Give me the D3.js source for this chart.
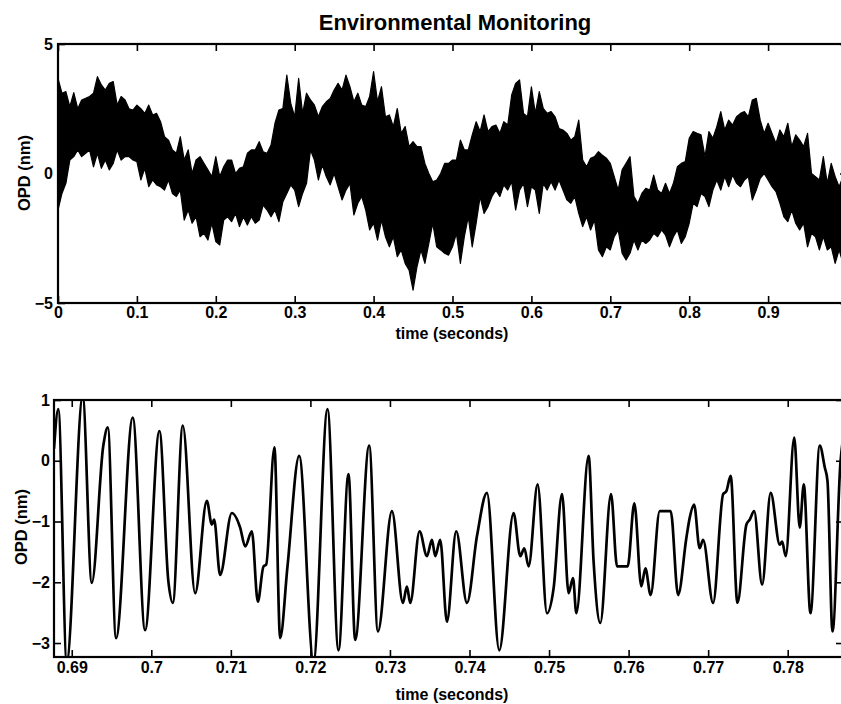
<!DOCTYPE html>
<html>
<head>
<meta charset="utf-8">
<script src="https://cdn.jsdelivr.net/npm/d3@7"></script>
<style>
  html, body { margin: 0; padding: 0; background: #fff; }
  svg { display: block; }
  text { font-family: "Liberation Sans", Arial, Helvetica, sans-serif; font-weight: bold; fill: #000; }
</style>
</head>
<body>
<svg id="chart" width="841" height="704"></svg>
<script>
// ---- Panel 1: full record, upper / lower envelope of the trace every 5 ms ----
const envTimes = d3.range(200).map(i => i * 0.005);
const envUpper = [
  3.67, 3.1, 3.16, 2.58, 3.12, 2.5, 2.84, 2.9, 2.97, 3.1,
  3.74, 3.42, 3.22, 3.48, 3.55, 2.64, 2.97, 2.84, 2.5, 2.45,
  2.64, 2.5, 2.32, 2.64, 2.26, 2.32, 2.0, 1.42, 1.29, 0.91,
  0.78, 1.42, 0.52, 0.91, 0.0, 0.52, 0.65, 0.39, 0.14, -0.12,
  0.65, -0.12, 0.26, 0.52, 0.52, 0.0, 0.2, 0.26, 0.78, 0.91,
  0.91, 1.23, 0.84, 0.78, 1.1, 1.94, 2.45, 2.51, 3.8, 2.71,
  2.19, 3.67, 2.32, 3.1, 2.84, 2.64, 2.19, 2.58, 2.77, 2.9,
  3.22, 3.48, 3.22, 3.8, 3.35, 2.77, 3.1, 2.64, 2.58, 2.97,
  3.93, 2.77, 3.35, 2.19, 2.26, 1.81, 2.51, 1.55, 1.81, 1.04,
  1.23, 1.04, 1.04, 0.39, 0.0, -0.32, -0.25, 0.0, 0.39, 0.39,
  0.52, 0.52, 1.29, 0.91, 0.91, 1.49, 2.0, 1.62, 2.26, 1.62,
  1.81, 1.87, 1.55, 2.0, 1.87, 3.03, 3.48, 3.61, 2.32, 2.19,
  3.35, 2.32, 3.16, 2.51, 2.32, 2.39, 2.19, 1.74, 1.68, 1.55,
  1.29, 1.42, 2.06, 0.52, 0.26, 0.59, 0.65, 0.84, 0.71, 0.59,
  0.39, -0.12, -0.64, 0.14, 0.39, 0.65, -0.89, -1.15, -0.77, -0.57,
  -0.64, -0.06, -0.64, -0.77, -0.38, -0.77, -0.38, 0.26, 0.39, 0.46,
  1.36, 1.62, 1.55, 1.49, 0.65, 1.62, 1.36, 1.81, 2.39, 1.68,
  2.06, 1.87, 2.19, 2.32, 2.39, 2.19, 2.84, 2.9, 2.06, 1.55,
  1.94, 1.55, 1.16, 1.68, 1.42, 1.94, 1.04, 1.49, 1.29, 1.04,
  1.55, 0.0, -0.12, -0.25, 0.65, -0.38, 0.39, -0.12, -0.51, -0.12
];
const envLower = [
  -1.41, -0.77, -0.38, 0.52, 0.65, 0.91, 0.65, 0.78, 0.91, 0.26,
  0.78, 0.2, 0.52, 0.14, 0.39, 0.91, 0.52, 0.65, 0.65, 0.52,
  0.46, -0.25, 0.2, -0.51, -0.25, -0.44, -0.51, -0.64, -0.25, -0.77,
  -0.89, -0.64, -1.8, -1.41, -1.92, -1.67, -2.44, -2.31, -2.57, -1.92,
  -2.63, -2.76, -1.8, -1.67, -1.86, -1.54, -2.05, -1.67, -1.99, -1.67,
  -1.92, -1.8, -1.22, -1.41, -1.67, -1.41, -1.86, -1.09, -0.77, -0.44,
  -0.64, -1.28, -0.77, -0.38, 0.91, 0.52, -0.25, 0.33, -0.12, -0.44,
  0.0, -0.51, -1.02, -0.64, -0.38, -1.6, -1.15, -0.89, -1.41, -2.18,
  -1.92, -2.57, -1.8, -2.44, -2.83, -2.44, -3.21, -2.95, -3.47, -3.73,
  -4.5, -3.6, -2.95, -3.47, -2.7, -1.92, -2.83, -2.95, -3.08, -3.15,
  -2.83, -2.31, -3.47, -2.44, -1.67, -2.83, -1.92, -0.89, -1.54, -1.28,
  -0.89, -0.64, -0.89, -0.44, -0.64, -0.32, -1.41, -0.64, -0.38, -1.28,
  -0.51, -0.64, -1.54, -0.38, -0.64, -0.32, -0.64, -0.25, -0.64, -1.02,
  -1.15, -0.89, -1.54, -2.05, -1.67, -2.18, -1.8, -2.95, -3.21, -2.83,
  -2.95, -2.44, -2.18, -3.08, -3.34, -3.08, -2.57, -2.95, -2.57, -2.7,
  -2.57, -2.31, -2.44, -2.18, -2.38, -2.83, -2.44, -2.18, -2.7, -2.44,
  -1.92, -1.15, -1.28, -0.77, -0.89, -1.28, -0.64, -0.25, -0.64, -0.12,
  -0.51, -0.06, -0.38, -0.51, -0.25, -0.12, -1.02, -0.64, -0.19, 0.0,
  -0.25, -0.51, -0.7, -1.15, -1.67, -1.86, -1.41, -1.92, -2.18, -1.92,
  -2.83, -2.31, -2.44, -2.95, -2.44, -2.95, -2.83, -3.47, -2.95, -3.47
];
const topXTicks = [0, 0.1, 0.2, 0.3, 0.4, 0.5, 0.6, 0.7, 0.8, 0.9];
const topYTicks = [-5, 0, 5];

// ---- Panel 2: zoomed segment, turning points of the trace ----
const zoomTimes = [
  0.68777, 0.68831, 0.68937, 0.69138, 0.69252, 0.69397, 0.69453, 0.69557, 0.69767, 0.69922,
  0.70102, 0.70215, 0.70270, 0.70396, 0.70551, 0.70698, 0.70761, 0.70790, 0.70865, 0.71012,
  0.71117, 0.71180, 0.71264, 0.71339, 0.71410, 0.71444, 0.71548, 0.71620, 0.71712, 0.71859,
  0.72039, 0.72215, 0.72353, 0.72479, 0.72563, 0.72739, 0.72849, 0.73025, 0.73163, 0.73213,
  0.73255, 0.73372, 0.73465, 0.73528, 0.73569, 0.73632, 0.73716, 0.73833, 0.73968, 0.74094,
  0.74219, 0.74374, 0.74554, 0.74638, 0.74689, 0.74743, 0.74856, 0.74974, 0.75057, 0.75163,
  0.75246, 0.75301, 0.75343, 0.75497, 0.75560, 0.75644, 0.75779, 0.75855, 0.75988, 0.76072,
  0.76160, 0.76211, 0.76277, 0.76391, 0.76529, 0.76622, 0.76726, 0.76768, 0.76823, 0.76893,
  0.76936, 0.77062, 0.77188, 0.77229, 0.77283, 0.77368, 0.77481, 0.77522, 0.77578, 0.77678,
  0.77786, 0.77900, 0.77930, 0.77975, 0.78082, 0.78151, 0.78202, 0.78286, 0.78403, 0.78466,
  0.78500, 0.78563, 0.78663, 0.78726
];
const zoomOPD = [
  0.2, 0.85, -3.3, 1.05, -2.01, 0.25, 0.55, -2.92, 0.71, -2.79,
  0.49, -1.99, -2.34, 0.58, -2.18, -0.66, -1.05, -0.97, -1.88, -0.86,
  -1.10, -1.41, -1.16, -2.32, -1.74, -1.71, 0.22, -2.92, -1.74, 0.08,
  -3.3, 0.85, -3.12, -0.22, -2.95, 0.25, -2.81, -0.83, -2.34, -2.07,
  -2.34, -1.16, -1.57, -1.30, -1.57, -1.30, -2.65, -1.16, -2.34, -1.24,
  -0.53, -3.12, -0.86, -1.57, -1.44, -1.74, -0.39, -2.51, -2.10, -0.55,
  -2.18, -1.93, -2.51, 0.08, -1.66, -2.67, -0.55, -1.74, -1.74, -0.70,
  -2.07, -1.77, -2.21, -0.83, -0.83, -2.21, -1.27, -0.94, -0.72, -1.44,
  -1.30, -2.34, -0.55, -0.50, -0.25, -2.34, -1.05, -0.97, -0.83, -2.04,
  -0.53, -1.38, -1.33, -1.57, 0.38, -1.10, -0.39, -2.51, 0.25, -0.11,
  -0.33, -2.81, -0.03, 0.6
];
const zoomXTicks = [0.69, 0.70, 0.71, 0.72, 0.73, 0.74, 0.75, 0.76, 0.77, 0.78];
const zoomYTicks = [-3, -2, -1, 0, 1];

const svg = d3.select("#chart");

// Boxed axes frame with inward ticks on all four sides.
function frame(g, x, y, xTicks, yTicks, xFmt, yFmt, opts) {
  const [x0, x1] = x.range();
  const [y0, y1] = y.range(); // y0 bottom, y1 top
  const tick = 7;

  const bottom = g.append("g").attr("transform", `translate(0,${y0})`)
    .call(d3.axisBottom(x).tickValues(xTicks).tickFormat(xFmt).tickSizeInner(-tick).tickSizeOuter(0).tickPadding(opts.xPad));
  const top = g.append("g").attr("transform", `translate(0,${y1})`)
    .call(d3.axisTop(x).tickValues(xTicks).tickFormat("").tickSizeInner(-tick).tickSizeOuter(0));
  const left = g.append("g").attr("transform", `translate(${x0},0)`)
    .call(d3.axisLeft(y).tickValues(yTicks).tickFormat(yFmt).tickSizeInner(-tick).tickSizeOuter(0).tickPadding(opts.yPad));
  const right = g.append("g").attr("transform", `translate(${x1},0)`)
    .call(d3.axisRight(y).tickValues(yTicks).tickFormat("").tickSizeInner(-tick).tickSizeOuter(0));

  [bottom, top, left, right].forEach(a => {
    a.select(".domain").remove();
    a.selectAll(".tick line").attr("stroke", "#000").attr("stroke-width", 1.6);
    a.selectAll("text").attr("font-size", 16).attr("font-family", "Liberation Sans, Arial, sans-serif")
      .attr("font-weight", "bold").attr("fill", "#000");
  });

  g.append("rect")
    .attr("x", x0).attr("y", y1)
    .attr("width", x1 - x0).attr("height", y0 - y1)
    .attr("fill", "none").attr("stroke", "#000").attr("stroke-width", 2.2);
}

// ---------- Panel 1 ----------
const x1s = d3.scaleLinear().domain([0, 1]).range([58, 847]);
const y1s = d3.scaleLinear().domain([-5, 5]).range([303, 44]);

svg.append("clipPath").attr("id", "clipTop")
  .append("rect").attr("x", 58).attr("y", 44).attr("width", 789).attr("height", 259);

const env = envTimes.map((t, i) => ({ t, hi: envUpper[i], lo: envLower[i] }));
const g1 = svg.append("g");
g1.append("g").attr("clip-path", "url(#clipTop)")
  .append("path")
  .datum(env)
  .attr("d", d3.area().x(d => x1s(d.t)).y0(d => y1s(d.lo)).y1(d => y1s(d.hi)))
  .attr("fill", "#000")
  .attr("stroke", "#000")
  .attr("stroke-width", 1.2)
  .attr("stroke-linejoin", "round");

frame(g1, x1s, y1s, topXTicks, topYTicks, d3.format(""), d3.format(""), { xPad: 4, yPad: 5 });

svg.append("text").attr("x", 455).attr("y", 30).attr("text-anchor", "middle")
  .attr("font-size", 22).text("Environmental Monitoring");
svg.append("text").attr("x", 452).attr("y", 339).attr("text-anchor", "middle")
  .attr("font-size", 16).text("time (seconds)");
svg.append("text").attr("transform", "translate(30,173) rotate(-90)").attr("text-anchor", "middle")
  .attr("font-size", 16.5).text("OPD (nm)");

// ---------- Panel 2 ----------
const x2s = d3.scaleLinear().domain([0.68777, 0.78695]).range([54, 843]);
const y2s = d3.scaleLinear().domain([-3.23, 1]).range([657, 400]);

svg.append("clipPath").attr("id", "clipBot")
  .append("rect").attr("x", 54).attr("y", 400).attr("width", 789).attr("height", 257);

const seg = zoomTimes.map((t, i) => ({ t, v: zoomOPD[i] }));
const g2 = svg.append("g");
g2.append("g").attr("clip-path", "url(#clipBot)")
  .append("path")
  .datum(seg)
  .attr("d", d3.line().x(d => x2s(d.t)).y(d => y2s(d.v)).curve(d3.curveMonotoneX))
  .attr("fill", "none")
  .attr("stroke", "#000")
  .attr("stroke-width", 2.7)
  .attr("stroke-linejoin", "round");

const fmtZoom = d => (d === 0.7 ? "0.7" : d3.format(".2f")(d));
frame(g2, x2s, y2s, zoomXTicks, zoomYTicks, fmtZoom, d3.format(""), { xPad: 5, yPad: 4 });

svg.append("text").attr("x", 452).attr("y", 700).attr("text-anchor", "middle")
  .attr("font-size", 16).text("time (seconds)");
svg.append("text").attr("transform", "translate(27,527) rotate(-90)").attr("text-anchor", "middle")
  .attr("font-size", 16.5).text("OPD (nm)");
</script>
</body>
</html>
